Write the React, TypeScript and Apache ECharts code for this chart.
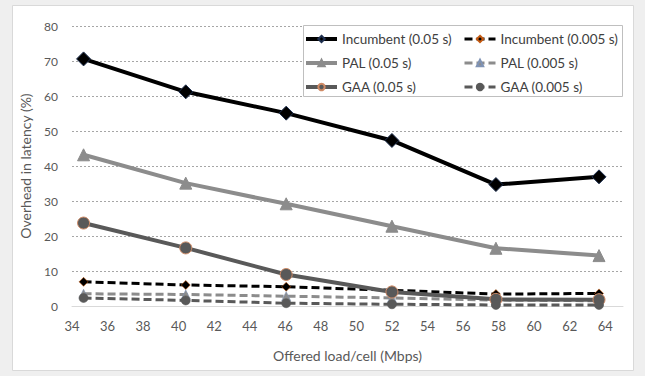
import React, { useEffect, useRef } from "react";
import * as echarts from "echarts";

const xValues = [34.65, 40.4, 46.05, 52.0, 57.85, 63.65];
const incumbent05 = [70.6, 61.2, 55.1, 47.3, 34.7, 36.9];
const incumbent005 = [6.9, 6.0, 5.5, 4.5, 3.4, 3.6];
const pal05 = [43.2, 35.1, 29.2, 22.8, 16.5, 14.4];
const pal005 = [3.5, 3.3, 2.8, 2.3, 1.7, 1.5];
const gaa05 = [23.7, 16.6, 9.0, 4.0, 1.9, 1.8];
const gaa005 = [2.3, 1.6, 0.8, 0.5, 0.3, 0.3];

const seriesNames = [
  "Incumbent (0.05 s)",
  "Incumbent (0.005 s)",
  "PAL (0.05 s)",
  "PAL (0.005 s)",
  "GAA (0.05 s)",
  "GAA (0.005 s)",
];

const FONT = "Lato";

function pts(ys: number[]) {
  return xValues.map((x, i) => [x, ys[i]]);
}

export default function App() {
  const ref = useRef<HTMLDivElement>(null);
  useEffect(() => {
    if (!ref.current) return;
    const chart = echarts.init(ref.current, null, { renderer: "svg" });
    const legendText = { fontFamily: FONT, fontSize: 13.5, color: "#404040" };
    const legendBase = {
      orient: "vertical",
      top: 32,
      padding: 0,
      itemGap: 10,
      itemWidth: 31,
      itemHeight: 8,
      z: 6,
      textStyle: legendText,
    };
    chart.setOption({
      animation: false,
      backgroundColor: "#efefef",
      textStyle: { fontFamily: FONT },
      graphic: [
        {
          type: "rect",
          z: -10,
          shape: { x: 12.5, y: 5.5, width: 621, height: 365 },
          style: { fill: "#ffffff", stroke: "#d9d9d9", lineWidth: 1 },
        },
        {
          type: "rect",
          z: 5,
          shape: { x: 303.5, y: 25.5, width: 319, height: 71 },
          style: { fill: "#ffffff", stroke: "#bfbfbf", lineWidth: 1 },
        },
      ],
      legend: [
        {
          ...legendBase,
          left: 304,
          data: [
            { name: seriesNames[0], lineStyle: { width: 4 } },
            { name: seriesNames[2], lineStyle: { width: 4 } },
            { name: seriesNames[4], lineStyle: { width: 4 } },
          ],
        },
        {
          ...legendBase,
          left: 463,
          data: [
            { name: seriesNames[1], lineStyle: { width: 3 } },
            { name: seriesNames[3], lineStyle: { width: 3 } },
            { name: seriesNames[5], lineStyle: { width: 3 } },
          ],
        },
      ],
      grid: { left: 72, right: 22, top: 26, bottom: 70, containLabel: false },
      xAxis: {
        type: "value",
        min: 34,
        max: 65,
        interval: 2,
        name: "Offered load/cell (Mbps)",
        nameLocation: "middle",
        nameGap: 42,
        nameTextStyle: { fontFamily: FONT, fontSize: 14, color: "#595959" },
        axisLine: { show: true, lineStyle: { color: "#d9d9d9", width: 1 } },
        axisTick: { show: false },
        splitLine: { show: false },
        axisLabel: {
          showMaxLabel: false,
          margin: 13,
          fontFamily: FONT,
          fontSize: 13,
          color: "#595959",
        },
      },
      yAxis: {
        type: "value",
        min: 0,
        max: 80,
        interval: 10,
        name: "Overhead in latency (%)",
        nameLocation: "middle",
        nameGap: 40,
        nameTextStyle: { fontFamily: FONT, fontSize: 14, color: "#595959" },
        axisLine: { show: false },
        axisTick: { show: false },
        splitLine: { lineStyle: { color: "#a6a6a6", type: [2, 2], width: 1 } },
        axisLabel: { margin: 14, fontFamily: FONT, fontSize: 12, color: "#595959" },
      },
      series: [
        {
          name: seriesNames[0],
          type: "line",
          data: pts(incumbent05),
          symbol: "diamond",
          symbolSize: 14,
          lineStyle: { color: "#000000", width: 4 },
          itemStyle: { color: "#000000", borderColor: "#1f3050", borderWidth: 1 },
          z: 2,
        },
        {
          name: seriesNames[1],
          type: "line",
          data: pts(incumbent005),
          symbol: "diamond",
          symbolSize: 9,
          lineStyle: { color: "#000000", width: 3, type: [8, 4] },
          itemStyle: { color: "#000000", borderColor: "#c55a11", borderWidth: 0.6 },
          z: 3,
        },
        {
          name: seriesNames[2],
          type: "line",
          data: pts(pal05),
          symbol: "triangle",
          symbolSize: 12,
          lineStyle: { color: "#8c8c8c", width: 4 },
          itemStyle: { color: "#8c8c8c", borderColor: "#8c8c8c", borderWidth: 1 },
          z: 3,
        },
        {
          name: seriesNames[3],
          type: "line",
          data: pts(pal005),
          symbol: "triangle",
          symbolSize: 9,
          lineStyle: { color: "#8c8c8c", width: 3, type: [8, 4] },
          itemStyle: { color: "#8c8c8c", borderColor: "#7f93b5", borderWidth: 0.6 },
          z: 3,
        },
        {
          name: seriesNames[4],
          type: "line",
          data: pts(gaa05),
          symbol: "circle",
          symbolSize: 12,
          lineStyle: { color: "#595959", width: 4 },
          itemStyle: { color: "#595959", borderColor: "#d08b66", borderWidth: 1 },
          z: 4,
        },
        {
          name: seriesNames[5],
          type: "line",
          data: pts(gaa005),
          symbol: "circle",
          symbolSize: 9,
          lineStyle: { color: "#595959", width: 3, type: [8, 4] },
          itemStyle: { color: "#595959", borderColor: "#595959", borderWidth: 0.6 },
          z: 4,
        },
      ],
    });
    return () => chart.dispose();
  }, []);
  return (
    <div
      ref={ref}
      style={{ position: "fixed", left: 0, top: 0, width: 645, height: 376 }}
    />
  );
}
